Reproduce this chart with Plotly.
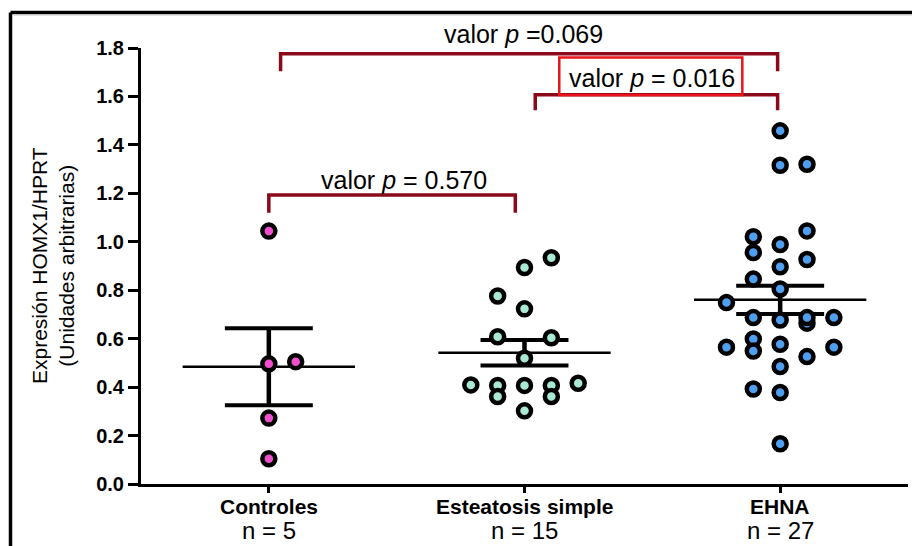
import numpy as np
import plotly.graph_objects as go

# ---- data -------------------------------------------------------------
groups = ["Controles", "Esteatosis simple", "EHNA"]
n_labels = ["n = 5", "n = 15", "n = 27"]

controles = [1.044, 0.496, 0.505, 0.272, 0.104]
controles_slot = [0, 0, 1, 0, 0]

esteatosis = [0.934, 0.894, 0.776, 0.723, 0.608, 0.604, 0.519, 0.409,
              0.407, 0.407, 0.407, 0.416, 0.361, 0.361, 0.302]
esteatosis_slot = [1, 0, -1, 0, -1, 1, 0, -2, -1, 0, 1, 2, -1, 1, 0]

ehna = [1.458, 1.316, 1.320, 1.045, 1.021, 0.989, 0.956, 0.927, 0.897,
        0.846, 0.805, 0.749, 0.664, 0.687, 0.677, 0.687, 0.687, 0.599,
        0.549, 0.565, 0.577, 0.565, 0.526, 0.485, 0.392, 0.378, 0.166]
ehna_slot = [0, 0, 1, 1, -1, 0, -1, 1, 0, -1, 0, -2, 1, -1, 0, 1, 2, -1,
             -1, -2, 0, 2, 1, 0, -1, 0, 0]

# pairwise comparisons (group a, group b, p-value text)
comparisons = [(1, 3, "=0.069"), (2, 3, "= 0.016"), (1, 2, "= 0.570")]

y_ticks = [0.0, 0.2, 0.4, 0.6, 0.8, 1.0, 1.2, 1.4, 1.6, 1.8]

# ---- styling ----------------------------------------------------------
FONT = "Liberation Sans, Arial, sans-serif"
fill_colors = ["#f24fd0", "#a8e8d4", "#4f9ff0"]
BRACKET = "#8b0a1a"
SLOT_W = 0.105
MEAN_HALF = 0.337
CAP_HALF = 0.172

W, H = 912, 546
ML, MR, MT, MB = 141, 4, 48, 62
Y_MAX = 1.8


def px_x(px):
    return (px - ML) / (W - ML - MR)


def px_y(py):
    return (H - MB - py) / (H - MT - MB)


fig = go.Figure()

series = [(controles, controles_slot), (esteatosis, esteatosis_slot), (ehna, ehna_slot)]

# mean +/- SEM bars
for i, (vals, _) in enumerate(series):
    xc = i + 1
    v = np.asarray(vals)
    m = v.mean()
    sem = v.std(ddof=1) / np.sqrt(len(v))
    fig.add_trace(go.Scatter(x=[xc - MEAN_HALF, xc + MEAN_HALF], y=[m, m],
                             mode="lines", line=dict(color="black", width=2.5),
                             hoverinfo="skip", showlegend=False))
    fig.add_trace(go.Scatter(x=[xc, xc], y=[m - sem, m + sem], mode="lines",
                             line=dict(color="black", width=4.5),
                             hoverinfo="skip", showlegend=False))
    fig.add_trace(go.Scatter(x=[xc - CAP_HALF, xc + CAP_HALF, None, xc - CAP_HALF, xc + CAP_HALF],
                             y=[m + sem, m + sem, None, m - sem, m - sem], mode="lines",
                             line=dict(color="black", width=4),
                             hoverinfo="skip", showlegend=False))

# individual points
for i, (vals, slots) in enumerate(series):
    xs = [i + 1 + s * SLOT_W for s in slots]
    fig.add_trace(go.Scatter(x=xs, y=vals, mode="markers",
                             marker=dict(size=13, color=fill_colors[i],
                                         line=dict(color="black", width=4.5)),
                             cliponaxis=False, showlegend=False, name=groups[i]))

# significance brackets: (top level, leg bottom, left inset, right inset, label y, label x)
bracket_geom = [
    (1.776, 1.704, 0.046, -0.010, 1.856, 1.995),
    (1.607, 1.543, 0.042, -0.010, 1.676, 2.497),
    (1.193, 1.120, 0.000, -0.036, 1.254, 1.527),
]
shapes = []
annotations = []
for (a, b, ptxt), (top, leg, li, ri, ly, lx) in zip(comparisons, bracket_geom):
    xa, xb = a + li, b + ri
    shapes.append(dict(type="path", xref="x", yref="y",
                       path=f"M {xa},{leg} L {xa},{top} L {xb},{top} L {xb},{leg}",
                       line=dict(color=BRACKET, width=3.5)))
    # labels placed in paper space so ones above the axis range stay visible
    annotations.append(dict(x=lx, y=ly / Y_MAX, xref="x", yref="paper", showarrow=False,
                            text=f"valor <i>p</i> {ptxt}",
                            font=dict(family=FONT, size=25, color="black"),
                            xanchor="center", yanchor="middle"))

# red highlight box around the significant comparison
shapes.append(dict(type="rect", xref="x", yref="y", x0=2.136, x1=2.852, y0=1.606, y1=1.761,
                   line=dict(color="#e8141c", width=2.5), fillcolor="rgba(0,0,0,0)"))

# outer frame (left and top rules)
shapes.append(dict(type="line", xref="paper", yref="paper",
                   x0=px_x(10.5), x1=px_x(10.5), y0=px_y(12.5), y1=px_y(H + 2),
                   line=dict(color="black", width=3.5)))
shapes.append(dict(type="line", xref="paper", yref="paper",
                   x0=px_x(10.5), x1=px_x(W + 2), y0=px_y(12.5), y1=px_y(12.5),
                   line=dict(color="black", width=3.5)))
shapes.append(dict(type="line", xref="paper", yref="paper",
                   x0=px_x(12.5), x1=px_x(W + 2), y0=px_y(15), y1=px_y(15),
                   line=dict(color="#c8c8c8", width=1)))

# category labels
for i, (g, n) in enumerate(zip(groups, n_labels)):
    annotations.append(dict(x=i + 1, y=0, xref="x", yref="y", showarrow=False,
                            text=f"<b>{g}</b>", yshift=-22,
                            font=dict(family=FONT, size=21, color="black"),
                            xanchor="center", yanchor="middle"))
    annotations.append(dict(x=i + 1, y=0, xref="x", yref="y", showarrow=False,
                            text=n, yshift=-46,
                            font=dict(family=FONT, size=24, color="black"),
                            xanchor="center", yanchor="middle"))

# y-axis title
annotations.append(dict(x=px_x(53), y=0.5, xref="paper", yref="paper", showarrow=False,
                        text="Expresión HOMX1/HPRT<br>(Unidades arbitrarias)",
                        textangle=-90, font=dict(family=FONT, size=21, color="black"),
                        xanchor="center", yanchor="middle"))

fig.update_layout(
    width=W, height=H,
    margin=dict(l=ML, r=MR, t=MT, b=MB, pad=0),
    paper_bgcolor="white", plot_bgcolor="white",
    shapes=shapes, annotations=annotations,
    showlegend=False,
    xaxis=dict(range=[0.5, 3.5], showgrid=False, zeroline=False,
               showline=True, linecolor="black", linewidth=2.5,
               ticks="outside", ticklen=6, tickwidth=2.5, tickcolor="black",
               tickvals=[1, 2, 3], showticklabels=False, fixedrange=True),
    yaxis=dict(range=[0, Y_MAX], showgrid=False, zeroline=False,
               showline=True, linecolor="black", linewidth=3,
               ticks="outside", ticklen=10, tickwidth=2.5, tickcolor="black",
               tickvals=y_ticks, ticktext=[f"{t:.1f}" for t in y_ticks],
               tickfont=dict(family=FONT, size=20, color="black", weight="bold"),
               fixedrange=True),
)

fig.write_html("out.html")
